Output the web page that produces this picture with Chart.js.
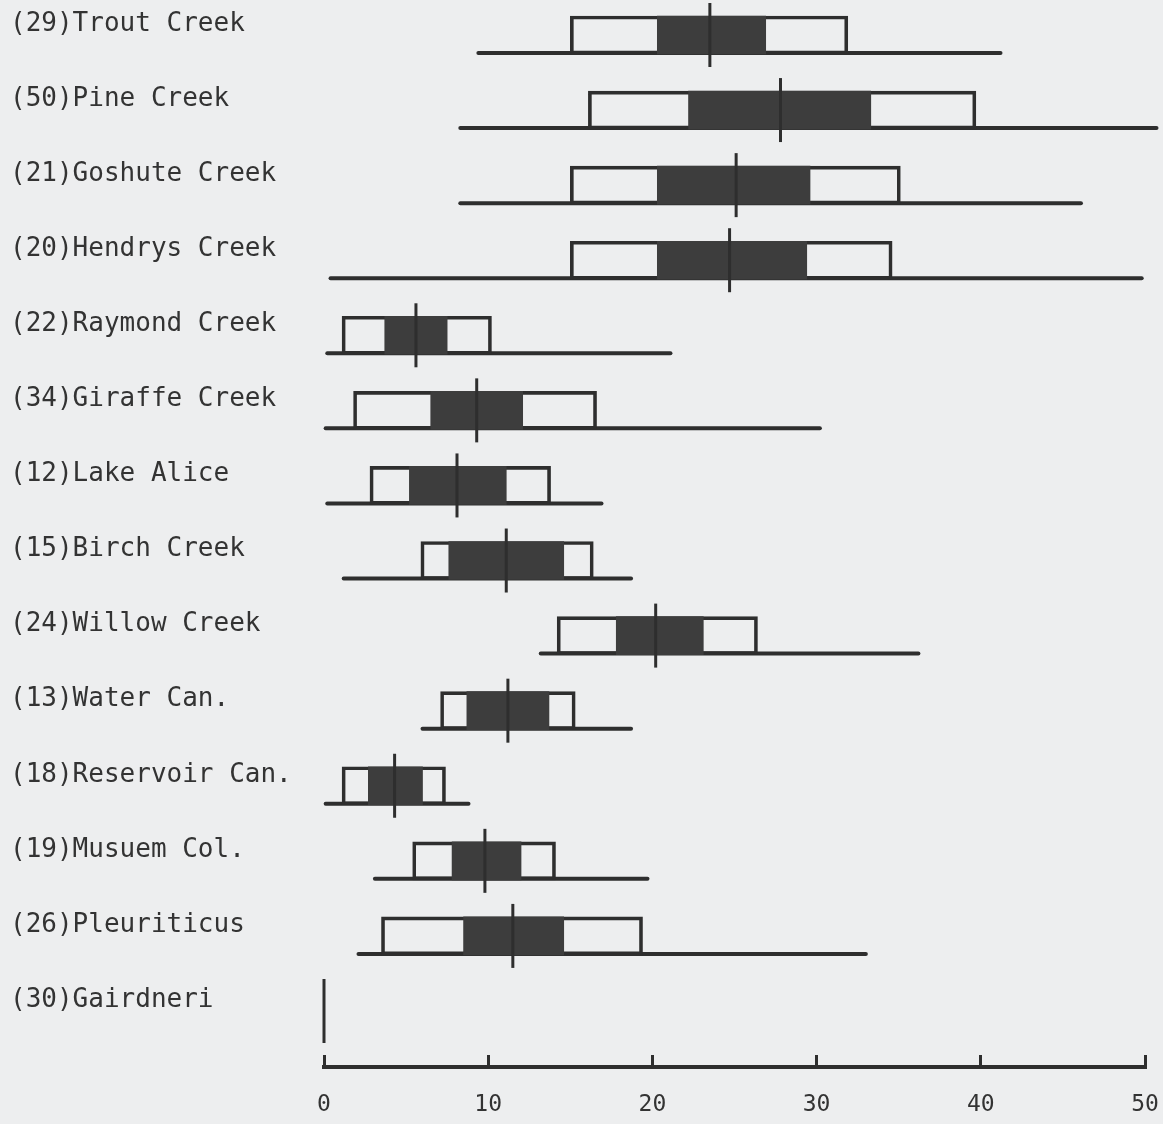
<!DOCTYPE html>
<html>
<head>
<meta charset="utf-8">
<script src="https://cdn.jsdelivr.net/npm/chart.js@4/dist/chart.umd.min.js"></script>
<style>
  body { margin: 0; background: #edeeef; }
  canvas { display: block; }
</style>
</head>
<body>
<canvas id="boxChart" width="1163" height="1124"></canvas>
<script>
let categories = [
  "(29)Trout Creek", "(50)Pine Creek", "(21)Goshute Creek", "(20)Hendrys Creek",
  "(22)Raymond Creek", "(34)Giraffe Creek", "(12)Lake Alice", "(15)Birch Creek",
  "(24)Willow Creek", "(13)Water Can.", "(18)Reservoir Can.", "(19)Musuem Col.",
  "(26)Pleuriticus", "(30)Gairdneri"
];
let rangeMin = [9.4, 8.3, 8.3, 0.4, 0.2, 0.1, 0.2, 1.2, 13.2, 6.0, 0.1, 3.1, 2.1, null];
let rangeMax = [41.2, 50.7, 46.1, 49.8, 21.1, 30.2, 16.9, 18.7, 36.2, 18.7, 8.8, 19.7, 33.0, null];
let outerLow = [15.0, 16.1, 15.0, 15.0, 1.1, 1.8, 2.8, 5.9, 14.2, 7.1, 1.1, 5.4, 3.5, null];
let outerHigh = [31.9, 39.7, 35.1, 34.6, 10.2, 16.6, 13.8, 16.4, 26.4, 15.3, 7.4, 14.1, 19.4, null];
let innerLow = [20.3, 22.2, 20.3, 20.3, 3.7, 6.5, 5.2, 7.6, 17.8, 8.7, 2.7, 7.8, 8.5, null];
let innerHigh = [26.9, 33.3, 29.6, 29.4, 7.5, 12.1, 11.1, 14.6, 23.1, 13.7, 6.0, 12.0, 14.6, null];
let means = [23.5, 27.8, 25.1, 24.7, 5.6, 9.3, 8.1, 11.1, 20.2, 11.2, 4.3, 9.8, 11.5, 0];
let xTicks = [0, 10, 20, 30, 40, 50];

const ink = "#2e2e2e";
const boxHeight = 38;

function pairs(lo, hi) {
  let out = [];
  lo.forEach((v, i) => {
    if (v !== null) out.push({ x: [v, hi[i]], y: i });
  });
  return out;
}

// range line drawn along the bottom edge of each box
const rangeLines = {
  id: "rangeLines",
  beforeDatasetsDraw(chart) {
    const ctx = chart.ctx;
    const xs = chart.scales.x;
    const ys = chart.scales.y;
    ctx.save();
    ctx.strokeStyle = ink;
    ctx.lineWidth = 4;
    ctx.lineCap = "round";
    rangeMin.forEach((v, i) => {
      if (v === null) return;
      let y = ys.getPixelForValue(i) + boxHeight / 2 - 1;
      ctx.beginPath();
      ctx.moveTo(xs.getPixelForValue(v), y);
      ctx.lineTo(xs.getPixelForValue(rangeMax[i]), y);
      ctx.stroke();
    });
    ctx.restore();
  },
};

const ctx = document.getElementById("boxChart").getContext("2d");
const myChart = new Chart(ctx, {
  data: {
    datasets: [
      {
        type: "scatter",
        label: "mean",
        data: means.map((v, i) => ({ x: v, y: i })),
        pointStyle: "line",
        rotation: 90,
        radius: 32,
        hoverRadius: 32,
        borderWidth: 3,
        borderColor: ink,
        clip: false,
        order: 0,
      },
      {
        type: "bar",
        label: "inner",
        indexAxis: "y",
        data: pairs(innerLow, innerHigh),
        backgroundColor: "#3d3d3d",
        borderWidth: 0,
        barThickness: boxHeight,
        grouped: false,
        clip: false,
        order: 1,
      },
      {
        type: "bar",
        label: "outer",
        indexAxis: "y",
        data: pairs(outerLow, outerHigh),
        backgroundColor: "rgba(0,0,0,0)",
        borderColor: ink,
        borderWidth: 3,
        borderSkipped: false,
        barThickness: boxHeight,
        grouped: false,
        clip: false,
        order: 2,
      },
    ],
  },
  options: {
    responsive: false,
    animation: false,
    layout: {
      autoPadding: false,
      padding: { left: 10, right: 18, top: 34, bottom: 0 },
    },
    plugins: {
      legend: { display: false },
      tooltip: { enabled: false },
    },
    scales: {
      x: {
        type: "linear",
        min: 0,
        max: 50,
        offset: false,
        afterBuildTicks: (s) => { s.ticks = xTicks.map((v) => ({ value: v })); },
        afterFit: (s) => { s.height = 57; },
        border: { display: true, color: ink, width: 4 },
        grid: {
          drawOnChartArea: false,
          drawTicks: true,
          tickLength: -12,
          color: ink,
          lineWidth: 3,
          offset: false,
        },
        ticks: {
          padding: 0,
          color: "#333",
          font: { family: "DejaVu Sans Mono", size: 23, lineHeight: "100px" },
        },
      },
      y: {
        type: "linear",
        reverse: true,
        offset: false,
        min: -0.013,
        max: 13.746,
        afterBuildTicks: (s) => { s.ticks = categories.map((c, i) => ({ value: i })); },
        afterFit: (s) => { s.width = 314; },
        border: { display: false },
        grid: { display: false, drawTicks: false, offset: false },
        ticks: {
          crossAlign: "far",
          labelOffset: -11,
          color: "#333",
          font: { family: "DejaVu Sans Mono", size: 26 },
          callback: (v) => categories[v],
        },
      },
    },
  },
  plugins: [rangeLines],
});
</script>
</body>
</html>
